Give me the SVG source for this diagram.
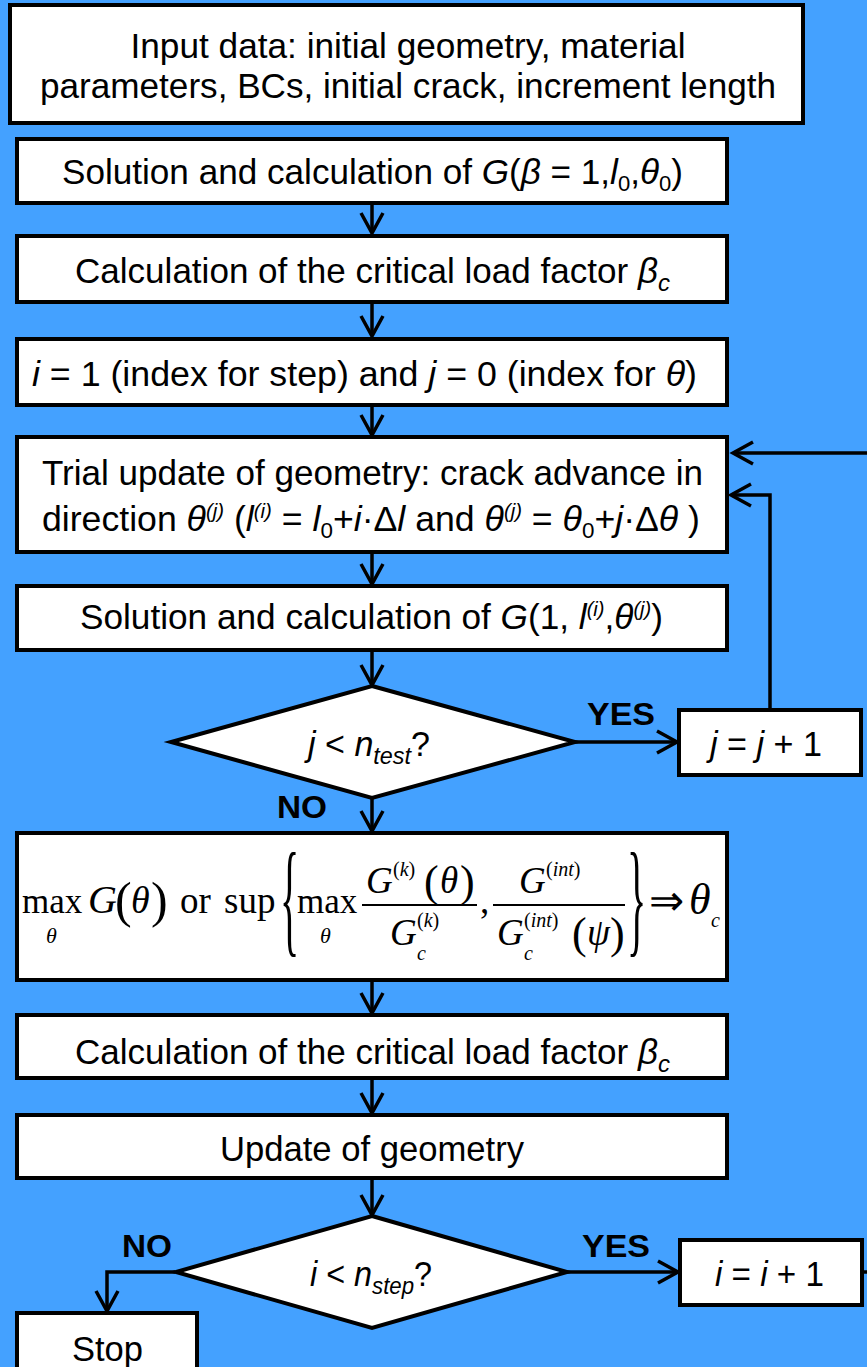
<svg xmlns="http://www.w3.org/2000/svg" width="867" height="1367" viewBox="0 0 867 1367">
<defs>
<style>
.bg{fill:#44A1FF}
.box{fill:#fff;stroke:#000;stroke-width:4}
.t{font-family:"Liberation Sans",Arial,sans-serif;font-size:35px;fill:#000}
.lbl{font-family:"Liberation Sans",Arial,sans-serif;font-size:31px;font-weight:bold;fill:#000}
.i{font-style:italic}
.m{font-family:"Liberation Serif","Times New Roman",serif;fill:#000}
.conn{fill:none;stroke:#000;stroke-width:3.5}
</style>
<marker id="ah" markerUnits="userSpaceOnUse" markerWidth="26" markerHeight="28" refX="21" refY="12" orient="auto" overflow="visible">
<path d="M1,1 L21,12 L1,23" fill="none" stroke="#000" stroke-width="3.5"/>
</marker>
</defs>
<rect class="bg" x="0" y="0" width="867" height="1367"/>

<g id="connectors">
<path class="conn" d="M372,203 V233" marker-end="url(#ah)"/>
<path class="conn" d="M372,302 V336" marker-end="url(#ah)"/>
<path class="conn" d="M372,405 V435" marker-end="url(#ah)"/>
<path class="conn" d="M372,552 V584" marker-end="url(#ah)"/>
<path class="conn" d="M372,650 V685" marker-end="url(#ah)"/>
<path class="conn" d="M372,798 V831" marker-end="url(#ah)"/>
<path class="conn" d="M575,742 H677" marker-end="url(#ah)"/>
<path class="conn" d="M770,710 V495 H731" marker-end="url(#ah)"/>
<path class="conn" d="M372,980 V1013" marker-end="url(#ah)"/>
<path class="conn" d="M372,1078 V1113" marker-end="url(#ah)"/>
<path class="conn" d="M372,1178 V1215" marker-end="url(#ah)"/>
<path class="conn" d="M175,1272 H107 V1311" marker-end="url(#ah)"/>
<path class="conn" d="M567,1272 H678" marker-end="url(#ah)"/>
<path class="conn" d="M862,1272 H872 V453 H733" marker-end="url(#ah)"/>
</g>

<g id="n1">
<rect class="box" x="10" y="5" width="793" height="118"/>
<text class="t" x="408" y="58" text-anchor="middle" textLength="555" lengthAdjust="spacingAndGlyphs">Input data: initial geometry, material</text>
<text class="t" x="408" y="98" text-anchor="middle" textLength="736" lengthAdjust="spacingAndGlyphs">parameters, BCs, initial crack, increment length</text>
</g>

<g id="n2">
<rect class="box" x="17" y="139" width="710" height="64"/>
<text class="t" x="62" y="184" textLength="621" lengthAdjust="spacingAndGlyphs">Solution and calculation of <tspan class="i">G</tspan>(<tspan class="i">β</tspan> = 1,<tspan class="i">l</tspan><tspan font-size="22" dy="7">0</tspan><tspan dy="-7">,</tspan><tspan class="i">θ</tspan><tspan font-size="22" dy="7">0</tspan><tspan dy="-7">)</tspan></text>
</g>

<g id="n3">
<rect class="box" x="17" y="236" width="710" height="66"/>
<text class="t" x="75" y="283" textLength="595" lengthAdjust="spacingAndGlyphs">Calculation of the critical load factor <tspan class="i">β</tspan><tspan class="i" font-size="24" dy="8">c</tspan></text>
</g>

<g id="n4">
<rect class="box" x="17" y="339" width="710" height="66"/>
<text class="t" x="32" y="386" textLength="665" lengthAdjust="spacingAndGlyphs"><tspan class="i">i</tspan> = 1 (index for step) and <tspan class="i">j</tspan> = 0 (index for <tspan class="i">θ</tspan>)</text>
</g>

<g id="n5">
<rect class="box" x="17" y="437" width="710" height="115"/>
<text class="t" x="42" y="485" textLength="661" lengthAdjust="spacingAndGlyphs">Trial update of geometry: crack advance in</text>
<text class="t" x="42" y="531" textLength="658" lengthAdjust="spacingAndGlyphs">direction <tspan class="i">θ</tspan><tspan class="i" font-size="20" dy="-13">(j)</tspan><tspan dy="13"> (</tspan><tspan class="i">l</tspan><tspan class="i" font-size="20" dy="-13">(i)</tspan><tspan dy="13"> = </tspan><tspan class="i">l</tspan><tspan font-size="22" dy="7">0</tspan><tspan dy="-7">+</tspan><tspan class="i">i</tspan>·Δ<tspan class="i">l</tspan> and <tspan class="i">θ</tspan><tspan class="i" font-size="20" dy="-13">(j)</tspan><tspan dy="13"> = </tspan><tspan class="i">θ</tspan><tspan font-size="22" dy="7">0</tspan><tspan dy="-7">+</tspan><tspan class="i">j</tspan>·Δ<tspan class="i">θ</tspan> )</text>
</g>

<g id="n6">
<rect class="box" x="17" y="586" width="710" height="64"/>
<text class="t" x="80" y="629" textLength="583" lengthAdjust="spacingAndGlyphs">Solution and calculation of <tspan class="i">G</tspan>(1, <tspan class="i">l</tspan><tspan class="i" font-size="20" dy="-13">(i)</tspan><tspan dy="13">,</tspan><tspan class="i">θ</tspan><tspan class="i" font-size="20" dy="-13">(j)</tspan><tspan dy="13">)</tspan></text>
</g>

<g id="d1">
<polygon class="box" points="372,686 575,742 372,798 171,742"/>
<text class="t" x="308" y="756" textLength="122" lengthAdjust="spacingAndGlyphs"><tspan class="i">j</tspan> &lt; <tspan class="i">n</tspan><tspan class="i" font-size="24" dy="8">test</tspan><tspan dy="-8">?</tspan></text>
</g>
<text class="lbl" x="587" y="725" textLength="68" lengthAdjust="spacingAndGlyphs">YES</text>
<text class="lbl" x="277" y="818" textLength="50" lengthAdjust="spacingAndGlyphs">NO</text>

<g id="n7">
<rect class="box" x="679" y="710" width="182" height="65"/>
<text class="t" x="710" y="756" textLength="112" lengthAdjust="spacingAndGlyphs"><tspan class="i">j</tspan> = <tspan class="i">j</tspan> + 1</text>
</g>

<g id="n8">
<rect class="box" x="17" y="833" width="710" height="147"/>
<text class="m" x="22" y="913" font-size="35">max</text>
<text class="m i" x="46" y="943" font-size="22">θ</text>
<text class="m i" x="88" y="913" font-size="40">G</text>
<text class="m" x="115" y="917" font-size="50">(</text>
<text class="m i" x="131" y="913" font-size="38">θ</text>
<text class="m" x="151" y="917" font-size="50">)</text>
<text class="m" x="180" y="913" font-size="37">or</text>
<text class="m" x="224" y="913" font-size="37">sup</text>
<text class="m" transform="translate(280,940) scale(1,3.2)" font-size="40">{</text>
<text class="m" x="297" y="913" font-size="35">max</text>
<text class="m i" x="320" y="943" font-size="22">θ</text>
<text class="m i" x="366" y="893" font-size="37">G</text>
<text class="m" x="393" y="876" font-size="20">(<tspan class="i">k</tspan>)</text>
<text class="m" x="424" y="896" font-size="44">(</text>
<text class="m i" x="440" y="893" font-size="37">θ</text>
<text class="m" x="460" y="896" font-size="44">)</text>
<line x1="362" y1="905" x2="477" y2="905" stroke="#000" stroke-width="2"/>
<text class="m i" x="390" y="945" font-size="37">G</text>
<text class="m i" x="417" y="960" font-size="20">c</text>
<text class="m" x="417" y="927" font-size="20">(<tspan class="i">k</tspan>)</text>
<text class="m" x="480" y="913" font-size="37">,</text>
<text class="m i" x="519" y="893" font-size="37">G</text>
<text class="m" x="546" y="876" font-size="20">(<tspan class="i">int</tspan>)</text>
<line x1="493" y1="905" x2="625" y2="905" stroke="#000" stroke-width="2"/>
<text class="m i" x="497" y="945" font-size="37">G</text>
<text class="m i" x="524" y="960" font-size="20">c</text>
<text class="m" x="524" y="927" font-size="20">(<tspan class="i">int</tspan>)</text>
<text class="m" x="572" y="948" font-size="44">(</text>
<text class="m i" x="587" y="945" font-size="37">ψ</text>
<text class="m" x="610" y="948" font-size="44">)</text>
<text class="m" transform="translate(627,940) scale(1,3.2)" font-size="40">}</text>
<text class="m" x="649" y="915" font-size="42">⇒</text>
<text class="m i" x="689" y="914" font-size="44">θ</text>
<text class="m i" x="711" y="927" font-size="20">c</text>
</g>

<g id="n9">
<rect class="box" x="17" y="1015" width="710" height="63"/>
<text class="t" x="75" y="1064" textLength="595" lengthAdjust="spacingAndGlyphs">Calculation of the critical load factor <tspan class="i">β</tspan><tspan class="i" font-size="24" dy="8">c</tspan></text>
</g>

<g id="n10">
<rect class="box" x="17" y="1115" width="710" height="63"/>
<text class="t" x="220" y="1161" textLength="304" lengthAdjust="spacingAndGlyphs">Update of geometry</text>
</g>

<g id="d2">
<polygon class="box" points="372,1216 567,1272 372,1328 176,1272"/>
<text class="t" x="310" y="1286" textLength="122" lengthAdjust="spacingAndGlyphs"><tspan class="i">i</tspan> &lt; <tspan class="i">n</tspan><tspan class="i" font-size="24" dy="8">step</tspan><tspan dy="-8">?</tspan></text>
</g>
<text class="lbl" x="582" y="1257" textLength="68" lengthAdjust="spacingAndGlyphs">YES</text>
<text class="lbl" x="122" y="1257" textLength="50" lengthAdjust="spacingAndGlyphs">NO</text>

<g id="n11">
<rect class="box" x="680" y="1240" width="182" height="65"/>
<text class="t" x="715" y="1286" textLength="109" lengthAdjust="spacingAndGlyphs"><tspan class="i">i</tspan> = <tspan class="i">i</tspan> + 1</text>
</g>

<g id="n12">
<rect class="box" x="17" y="1313" width="180" height="70"/>
<text class="t" x="72" y="1361" textLength="71" lengthAdjust="spacingAndGlyphs">Stop</text>
</g>
</svg>
